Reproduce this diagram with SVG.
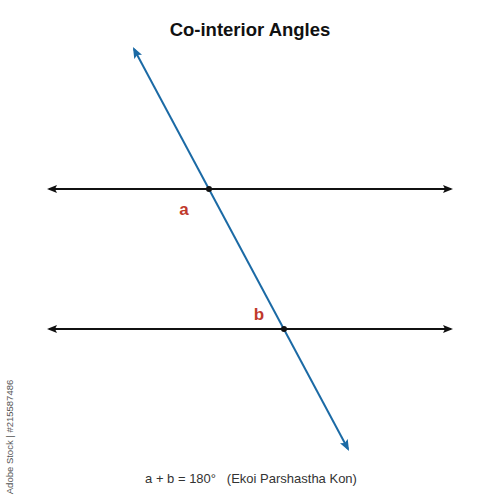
<svg xmlns="http://www.w3.org/2000/svg" width="500" height="500" viewBox="0 0 500 500">
<style>
.title{font-family:"Liberation Sans",Arial,sans-serif;font-weight:bold;font-size:18.5px;fill:#111}
.lbl{font-family:"Liberation Sans",Arial,sans-serif;font-weight:bold;font-size:17px;fill:#c0392b}
.note{font-family:"Liberation Sans",Arial,sans-serif;font-size:13px;fill:#333}
.wm{font-family:"Liberation Sans",Arial,sans-serif;font-size:9.5px;fill:#555}
.par{stroke:#111;stroke-width:2;fill:none}
.tr{stroke:#1b6aa5;stroke-width:2;fill:none}
.dot{fill:#111}
</style>
<defs>
<marker id="ab" viewBox="0 0 10 8" refX="8" refY="4" markerWidth="10" markerHeight="8" markerUnits="userSpaceOnUse" orient="auto-start-reverse">
<path d="M0,0 L10,4 L0,8 L2,4 Z" fill="#111"/>
</marker>
<marker id="ab2" viewBox="0 0 10 8" refX="8" refY="4" markerWidth="12" markerHeight="9" markerUnits="userSpaceOnUse" orient="auto-start-reverse">
<path d="M0,0 L10,4 L0,8 L2,4 Z" fill="#1b6aa5"/>
</marker>
</defs>
<rect width="500" height="500" fill="#fff"/>
<text class="title" x="250" y="36" text-anchor="middle">Co-interior Angles</text>
<g id="connectors">
<line id="line1" class="par" x1="49" y1="189" x2="451" y2="189" marker-start="url(#ab)" marker-end="url(#ab)"/>
<line id="line2" class="par" x1="49" y1="329" x2="451" y2="329" marker-start="url(#ab)" marker-end="url(#ab)"/>
<line id="transversal" class="tr" x1="134" y1="49" x2="348" y2="449" marker-start="url(#ab2)" marker-end="url(#ab2)"/>
</g>
<g id="pointA">
<circle class="dot" cx="209" cy="189" r="3"/>
<text class="lbl" x="184" y="215" text-anchor="middle">a</text>
</g>
<g id="pointB">
<circle class="dot" cx="284" cy="329" r="3"/>
<text class="lbl" x="259" y="320" text-anchor="middle">b</text>
</g>
<text class="note" x="251" y="483" text-anchor="middle" xml:space="preserve">a + b = 180°   (Ekoi Parshastha Kon)</text>
<text class="wm" transform="translate(13,437) rotate(-90)" text-anchor="middle">Adobe Stock | #215587486</text>
</svg>
